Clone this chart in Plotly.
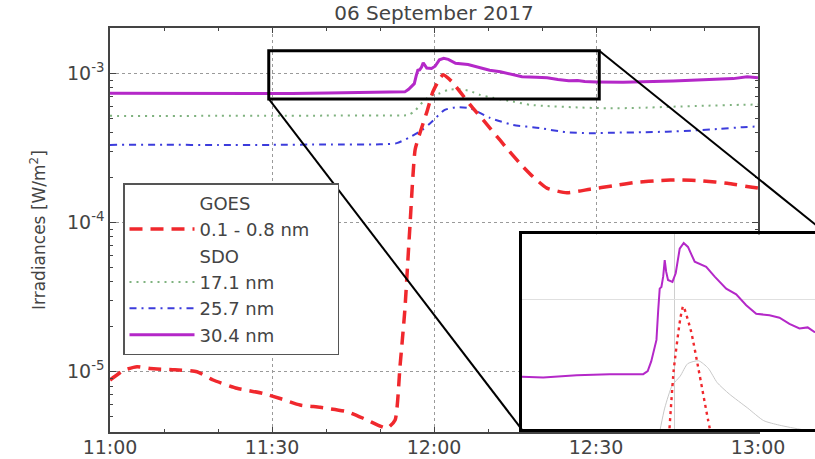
import pandas as pd
import plotly.graph_objects as go
import math

# ---------------- data (minutes after 11:00 UT, irradiance W/m^2) ----------------
GOES_MIN = [0, 2.5, 5.0, 7.4, 12.0, 16.1, 19.1, 23.5, 28.3, 31.5, 35.2, 38.9, 43.9, 47.6,
            51.3, 52.8, 53.7, 54.6, 55.5, 56.5, 57.4, 58.7, 59.8, 61.1, 61.7, 63.3, 64.8,
            66.7, 69.1, 72.2, 73.7, 75.9, 78.3, 80.9, 84.6, 88.9, 93.1, 97.6, 101.9, 105.6,
            109.8, 114.3, 118.9, 120]
GOES_VAL = [8.79e-6, 1.02e-5, 1.08e-5, 1.05e-5, 1.03e-5, 1.00e-5, 8.80e-6, 7.74e-6, 7.16e-6,
            6.61e-6, 5.98e-6, 5.77e-6, 5.40e-6, 4.75e-6, 4.18e-6, 4.75e-6, 1.08e-5, 2.59e-5,
            8.9e-5, 3.07e-4, 3.98e-4, 5.53e-4, 7.53e-4, 9.25e-4, 9.75e-4, 8.79e-4, 7.53e-4,
            6.14e-4, 4.86e-4, 3.57e-4, 3.07e-4, 2.49e-4, 2.03e-4, 1.70e-4, 1.58e-4, 1.67e-4,
            1.76e-4, 1.86e-4, 1.91e-4, 1.93e-4, 1.90e-4, 1.83e-4, 1.72e-4, 1.70e-4]

SDO171_MIN = [0, 10, 20, 30, 40, 50, 55.2, 56.5, 58.0, 59.5, 61.1, 62.6, 64.8, 66.7, 68.5,
              70.9, 74.6, 77.8, 80.9, 85.6, 92, 98, 104.3, 110, 116.7, 120]
SDO171_VAL = [5.18e-4, 5.16e-4, 5.19e-4, 5.18e-4, 5.20e-4, 5.21e-4, 5.25e-4, 5.62e-4, 6.46e-4,
              7.08e-4, 7.35e-4, 7.73e-4, 7.82e-4, 7.59e-4, 7.16e-4, 6.84e-4, 6.46e-4, 6.14e-4,
              6.03e-4, 5.92e-4, 5.82e-4, 5.86e-4, 5.97e-4, 6.05e-4, 6.14e-4, 6.17e-4]

SDO257_MIN = [0, 10, 20, 30, 40, 50, 53.1, 55.5, 57.8, 59.3, 62.0, 64.3, 66.7, 70.4, 74.6,
              79.6, 84.3, 88.9, 93.9, 98.5, 103.1, 107.9, 112.9, 117.2, 120]
SDO257_VAL = [3.31e-4, 3.32e-4, 3.30e-4, 3.31e-4, 3.33e-4, 3.34e-4, 3.40e-4, 3.72e-4, 4.17e-4,
              4.62e-4, 5.68e-4, 5.92e-4, 5.82e-4, 5.01e-4, 4.51e-4, 4.29e-4, 4.03e-4, 3.96e-4,
              4.00e-4, 4.02e-4, 4.06e-4, 4.13e-4, 4.24e-4, 4.35e-4, 4.40e-4]

SDO304_MIN = [0, 8, 16, 24, 29.4, 33.7, 40.4, 47.0, 53.7, 54.6, 55.3, 55.9, 56.35, 56.7, 57.0,
              57.34, 57.7, 58.0, 58.3, 58.66, 59.54, 60.2, 61.0, 61.8, 62.65, 64.0, 66.3, 68.0,
              70.3, 72.3, 74.3, 76.3, 78.96, 80.96, 82.95, 84.95, 86.6, 87.9, 90, 95, 104.3,
              110.6, 115.4, 118, 120]
SDO304_VAL = [7.35e-4, 7.33e-4, 7.31e-4, 7.30e-4, 7.33e-4, 7.31e-4, 7.38e-4, 7.41e-4, 7.41e-4,
              7.50e-4, 7.80e-4, 8.20e-4, 8.51e-4, 9.60e-4, 1.047e-3, 1.054e-3, 1.10e-3, 1.175e-3,
              1.12e-3, 1.084e-3, 1.076e-3, 1.114e-3, 1.230e-3, 1.259e-3, 1.239e-3, 1.167e-3,
              1.143e-3, 1.099e-3, 1.047e-3, 1.023e-3, 9.79e-4, 9.46e-4, 9.40e-4, 9.31e-4, 9.08e-4,
              8.91e-4, 8.95e-4, 8.79e-4, 8.75e-4, 8.71e-4, 8.87e-4, 9.02e-4, 9.20e-4, 9.48e-4,
              9.33e-4]

MAJOR_TICK_MIN = [0, 30, 60, 90, 120]
MINOR_TICK_MIN = [m for m in range(0, 121, 10)]
Y_TICKS = [1e-5, 1e-4, 1e-3]
Y_TICK_TEXT = ["10<sup>-5</sup>", "10<sup>-4</sup>", "10<sup>-3</sup>"]

TITLE = "06 September 2017"
Y_TITLE = "Irradiances [W/m<sup>2</sup>]"
NBSP = "\u00a0"
LEGEND_NAMES = {"goes_head": "GOES", "goes": "0.1 - 0.8 nm" + NBSP * 4, "sdo_head": "SDO",
                "171": "17.1 nm", "257": "25.7 nm", "304": "30.4 nm"}

# zoom window (time in minutes, irradiance)
ZOOM_T0, ZOOM_T1 = 29.4, 90.6
ZOOM_LOW, ZOOM_HIGH = 6.73e-4, 1.413e-3

# ---------------- helpers ----------------
BASE = pd.Timestamp("2017-09-06 11:00")


def t(m):
    return BASE + pd.to_timedelta(m, unit="min")


def ts(ms):
    return [t(m) for m in ms]


W, H = 815, 459
ML, MR, MT, MB = 110, 0, 28, 27
PW = W - ML - MR
PH = H - MT - MB
MAIN_XD = 648 / PW               # main plot x-domain end
MAIN_YR = [-5.404, -2.697]       # log10 range
INSET_X = [0.584, 1.018]         # full inset box in paper (partly off-page)
INSET_Y = [0.0067, 0.489]
INSET_YR = [-3.227, -2.885]

inset_frac = (1.0 - INSET_X[0]) / (INSET_X[1] - INSET_X[0])
INSET_T_END = ZOOM_T0 + (ZOOM_T1 - ZOOM_T0) * inset_frac


def px(m):
    return MAIN_XD * m / 120.0


def py(v):
    return (math.log10(v) - MAIN_YR[0]) / (MAIN_YR[1] - MAIN_YR[0])


FONT = "DejaVu Sans"
TXT = "#444"
RED = "#f0282d"
GREEN = "#7fb27f"
BLUE = "#3c3cdc"
PURPLE = "#b428c8"

fig = go.Figure()

# legend headers
fig.add_trace(go.Scatter(x=[None], y=[None], mode="lines", name=LEGEND_NAMES["goes_head"],
                         line=dict(color="rgba(0,0,0,0)", width=0), legendrank=1))
fig.add_trace(go.Scatter(x=[None], y=[None], mode="lines", name=LEGEND_NAMES["sdo_head"],
                         line=dict(color="rgba(0,0,0,0)", width=0), legendrank=3))

fig.add_trace(go.Scatter(x=ts(SDO171_MIN), y=SDO171_VAL, mode="lines", name=LEGEND_NAMES["171"],
                         line=dict(color=GREEN, width=2, dash="2px,5px", shape="spline",
                                   smoothing=0.6), legendrank=4))
fig.add_trace(go.Scatter(x=ts(SDO257_MIN), y=SDO257_VAL, mode="lines", name=LEGEND_NAMES["257"],
                         line=dict(color=BLUE, width=2, dash="7px,5px,2px,5px", shape="spline",
                                   smoothing=0.6), legendrank=5))
fig.add_trace(go.Scatter(x=ts(SDO304_MIN), y=SDO304_VAL, mode="lines", name=LEGEND_NAMES["304"],
                         line=dict(color=PURPLE, width=3), legendrank=6))
fig.add_trace(go.Scatter(x=ts(GOES_MIN), y=GOES_VAL, mode="lines", name=LEGEND_NAMES["goes"],
                         line=dict(color=RED, width=3.5, dash="13px,8px", shape="spline",
                                   smoothing=0.5), legendrank=2))

# inset traces
fig.add_trace(go.Scatter(x=ts(SDO171_MIN), y=SDO171_VAL, mode="lines", showlegend=False,
                         line=dict(color="#c8c8c8", width=1, shape="spline", smoothing=0.6),
                         xaxis="x2", yaxis="y2"))
fig.add_trace(go.Scatter(x=ts(GOES_MIN), y=GOES_VAL, mode="lines", showlegend=False,
                         line=dict(color=RED, width=2.4, dash="3px,4px", shape="spline",
                                   smoothing=0.5), xaxis="x2", yaxis="y2"))
fig.add_trace(go.Scatter(x=ts(SDO304_MIN), y=SDO304_VAL, mode="lines", showlegend=False,
                         line=dict(color=PURPLE, width=2), xaxis="x2", yaxis="y2"))

minor_y = [k * 10 ** e for e in range(-6, -2) for k in range(2, 10)]

fig.update_layout(
    width=W, height=H, autosize=False,
    margin=dict(l=ML, r=MR, t=MT, b=MB, autoexpand=False),
    paper_bgcolor="white", plot_bgcolor="white",
    font=dict(family=FONT, color=TXT, size=15),
    title=dict(text=TITLE, x=(px(60)), xref="paper", xanchor="center",
               y=1 - 13 / H, yref="container", yanchor="middle",
               font=dict(size=20, color=TXT, family=FONT)),
    showlegend=True,
    legend=dict(x=13 / PW, y=0.6064 + 4 / PH, xanchor="left", yanchor="top", bgcolor="white",
                bordercolor="#555", borderwidth=1.5, font=dict(size=18, color=TXT, family=FONT),
                itemwidth=65, tracegroupgap=0, traceorder="normal"),
    xaxis=dict(domain=[0, MAIN_XD], range=[t(0), t(120)], type="date", automargin=False,
               tickvals=ts(MAJOR_TICK_MIN), tickformat="%H:%M", ticks="inside", ticklen=5,
               tickcolor="#444", showline=True, linecolor="#444", linewidth=1.5, mirror="ticks",
               showgrid=True, gridcolor="#9a9a9a", griddash="dot", gridwidth=1,
               tickfont=dict(size=19, color=TXT, family=FONT), ticklabelstandoff=-3,
               minor=dict(tickvals=ts(MINOR_TICK_MIN), ticks="inside", ticklen=3,
                          tickcolor="#444", showgrid=False),
               zeroline=False),
    yaxis=dict(type="log", range=MAIN_YR, tickvals=Y_TICKS, ticktext=Y_TICK_TEXT,
               automargin=False,
               ticks="inside", ticklen=6, tickcolor="#444", showline=True, linecolor="#444",
               linewidth=1.5, mirror="ticks", showgrid=True, gridcolor="#9a9a9a",
               griddash="dot", gridwidth=1, tickfont=dict(size=19, color=TXT, family=FONT),
               minor=dict(tickvals=minor_y, ticks="inside", ticklen=3, tickcolor="#444",
                          showgrid=False),
               zeroline=False),
    xaxis2=dict(domain=[INSET_X[0], 1.0], anchor="y2", type="date", automargin=False,
                range=[t(ZOOM_T0), t(INSET_T_END)], tickvals=[t(60)], showticklabels=False,
                ticks="", showline=True, linecolor="black", linewidth=3, mirror=True,
                showgrid=True, gridcolor="#cfcfcf", gridwidth=1, zeroline=False),
    yaxis2=dict(domain=INSET_Y, anchor="x2", type="log", range=INSET_YR, tickvals=[1e-3],
                automargin=False,
                showticklabels=False, ticks="", showline=True, linecolor="black", linewidth=3,
                mirror=False, showgrid=True, gridcolor="#e0e0e0", gridwidth=1, zeroline=False),
)

# zoom rectangle in main data coordinates
fig.add_shape(type="rect", xref="x", yref="y", x0=t(ZOOM_T0), x1=t(ZOOM_T1),
              y0=ZOOM_LOW, y1=ZOOM_HIGH, line=dict(color="black", width=3))
# connector lines
fig.add_shape(type="line", xref="paper", yref="paper",
              x0=px(ZOOM_T0), y0=py(ZOOM_LOW), x1=INSET_X[0], y1=INSET_Y[0],
              line=dict(color="black", width=2))
fig.add_shape(type="line", xref="paper", yref="paper",
              x0=px(ZOOM_T1), y0=py(ZOOM_HIGH), x1=INSET_X[1], y1=INSET_Y[1],
              line=dict(color="black", width=2))

fig.add_annotation(text=Y_TITLE, xref="paper", yref="paper", x=(38 - ML) / PW, y=0.5,
                   textangle=-90, showarrow=False, xanchor="center", yanchor="middle",
                   font=dict(size=17, color=TXT, family=FONT))

POST = ("document.body.style.margin='0px';document.body.style.overflow='hidden';"
        "var gd=document.getElementById('{plot_id}');"
        "Plotly.relayout(gd,{width:815,height:459});")

fig.write_html("out.html", config={"responsive": False, "displayModeBar": False},
               post_script=POST)
